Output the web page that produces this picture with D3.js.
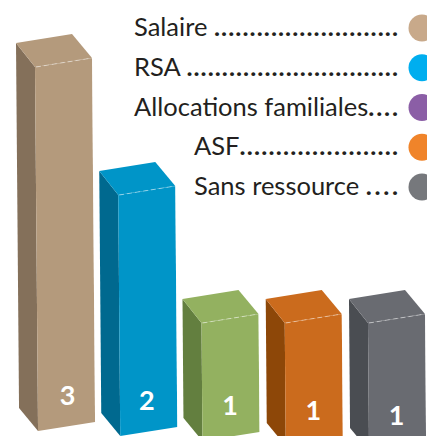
<!DOCTYPE html>
<html>
<head>
<meta charset="utf-8">
<script src="https://cdn.jsdelivr.net/npm/d3@7"></script>
<style>
  body { margin: 0; background: #fff; }
  svg { display: block; }
</style>
</head>
<body>
<script>
// Data

var categories = ['Salaire', 'RSA', 'Allocations familiales', 'ASF', 'Sans ressource'];
var values = [3, 2, 1, 1, 1];

// bar colours (front / side) and legend dot colours
var frontColors = ['#b49a7c', '#0095c8', '#93b160', '#cb6b1d', '#696b71'];
var sideColors = ['#84705a', '#00698f', '#637f3f', '#8d4708', '#4a4d52'];
var legendLabels = ['Salaire', 'RSA', 'Allocations familiales', 'ASF', 'Sans ressource'];
var legendGaps = [' ', ' ', '', '', ' '];
var legendIndent = [0, 0, 0, 1, 1];
var legendColors = ['#c8a98a', '#00aeef', '#8b5ea6', '#f0842a', '#76787c'];

var width = 427,
    height = 436;

var svg = d3.select('body')
  .append('svg')
  .attr('width', width)
  .attr('height', height);

// Scales. x gives the left edge of each front face,
// y gives the top of the front face (left corner).

var x = d3.scaleBand()
  .domain(categories)
  .range([35, 425])
  .paddingInner(0.315)
  .paddingOuter(0);

var y = d3.scaleLinear()
  .domain([0, 3])
  .range([451, 67]);

// the floor slopes down a bit from left to right
var floor = d3.scaleLinear()
  .domain([0, categories.length - 1])
  .range([431, 451]);

// depth of the box and slope of the front edges
var dx = 19, dy = 24, tilt = 9;

var bars = categories.map(function(c, i) {
  return { cat: c, value: values[i], i: i };
});

var g = svg.append('g');

var bar = g.selectAll('g.bar')
  .data(bars)
  .enter().append('g')
  .attr('class', 'bar');

bar.each(function(d) {
  var el = d3.select(this),
      w = x.bandwidth(),
      x0 = x(d.cat),
      x1 = x0 + w,
      t = y(d.value),
      b = floor(d.i),
      lean = (b - t) / 120; // front edges lean a little to the right

  // side face
  el.append('path')
    .attr('d', 'M' + (x0 - dx) + ',' + (t - dy) +
      'L' + x0 + ',' + t +
      'L' + (x0 + lean) + ',' + b +
      'L' + (x0 - dx + lean) + ',' + (b - dy + 1) + 'Z')
    .attr('fill', sideColors[d.i]);

  // top face
  el.append('path')
    .attr('d', 'M' + (x0 - dx) + ',' + (t - dy) +
      'L' + (x1 - dx - 1) + ',' + (t - dy - tilt) +
      'L' + x1 + ',' + (t - tilt) +
      'L' + x0 + ',' + t + 'Z')
    .attr('fill', frontColors[d.i]);

  // front face
  el.append('path')
    .attr('d', 'M' + x0 + ',' + t +
      'L' + x1 + ',' + (t - tilt) +
      'L' + (x1 + lean) + ',' + (b - tilt) +
      'L' + (x0 + lean) + ',' + b + 'Z')
    .attr('fill', frontColors[d.i]);

  // light dashed edge between top and front
  el.append('line')
    .attr('x1', x0 + 1).attr('y1', t)
    .attr('x2', x1).attr('y2', t - tilt)
    .attr('stroke', '#ffffff')
    .attr('stroke-opacity', 0.45)
    .attr('stroke-width', 1)
    .attr('stroke-dasharray', '5,3');

  // thin light right edge
  el.append('line')
    .attr('x1', x1 + 0.5).attr('y1', t - tilt)
    .attr('x2', x1 + lean + 0.5).attr('y2', b - tilt)
    .attr('stroke', '#ffffff')
    .attr('stroke-opacity', 0.5)
    .attr('stroke-width', 1);

  // value label
  el.append('text')
    .attr('x', x0 + w / 2 + (d.i === 0 ? 4 : 0))
    .attr('y', b - 36)
    .attr('dy', '0.36em')
    .attr('text-anchor', 'middle')
    .attr('fill', '#ffffff')
    .style('font-family', 'Lato, sans-serif')
    .style('font-weight', 700)
    .style('font-size', '27px')
    .text(d.value);
});

// Legend with dotted leaders

var legendX = 134,
    indentX = 194,
    dotsEnd = 398,
    legendY = d3.scaleLinear().domain([0, 4]).range([36, 195]);

var legend = svg.append('g')
  .style('font-family', 'Lato, sans-serif')
  .style('font-size', '25.5px')
  .attr('fill', '#231f20');

legendLabels.forEach(function(label, i) {
  var lx = legendIndent[i] ? indentX : legendX,
      ly = legendY(i);

  var txt = legend.append('text')
    .attr('x', lx)
    .attr('y', ly)
    .style('white-space', 'pre')
    .text(label + legendGaps[i]);

  var start = lx + txt.node().getComputedTextLength();
  var n = Math.floor((dotsEnd - start) / 7);

  legend.append('text')
    .attr('x', start)
    .attr('y', ly)
    .attr('textLength', dotsEnd - start)
    .attr('lengthAdjust', 'spacing')
    .style('font-weight', 700)
    .text(d3.range(n).map(function() { return '.'; }).join(''));

  legend.append('circle')
    .attr('cx', 422)
    .attr('cy', ly - 8)
    .attr('r', 13.5)
    .attr('fill', legendColors[i]);
});
</script>
</body>
</html>
